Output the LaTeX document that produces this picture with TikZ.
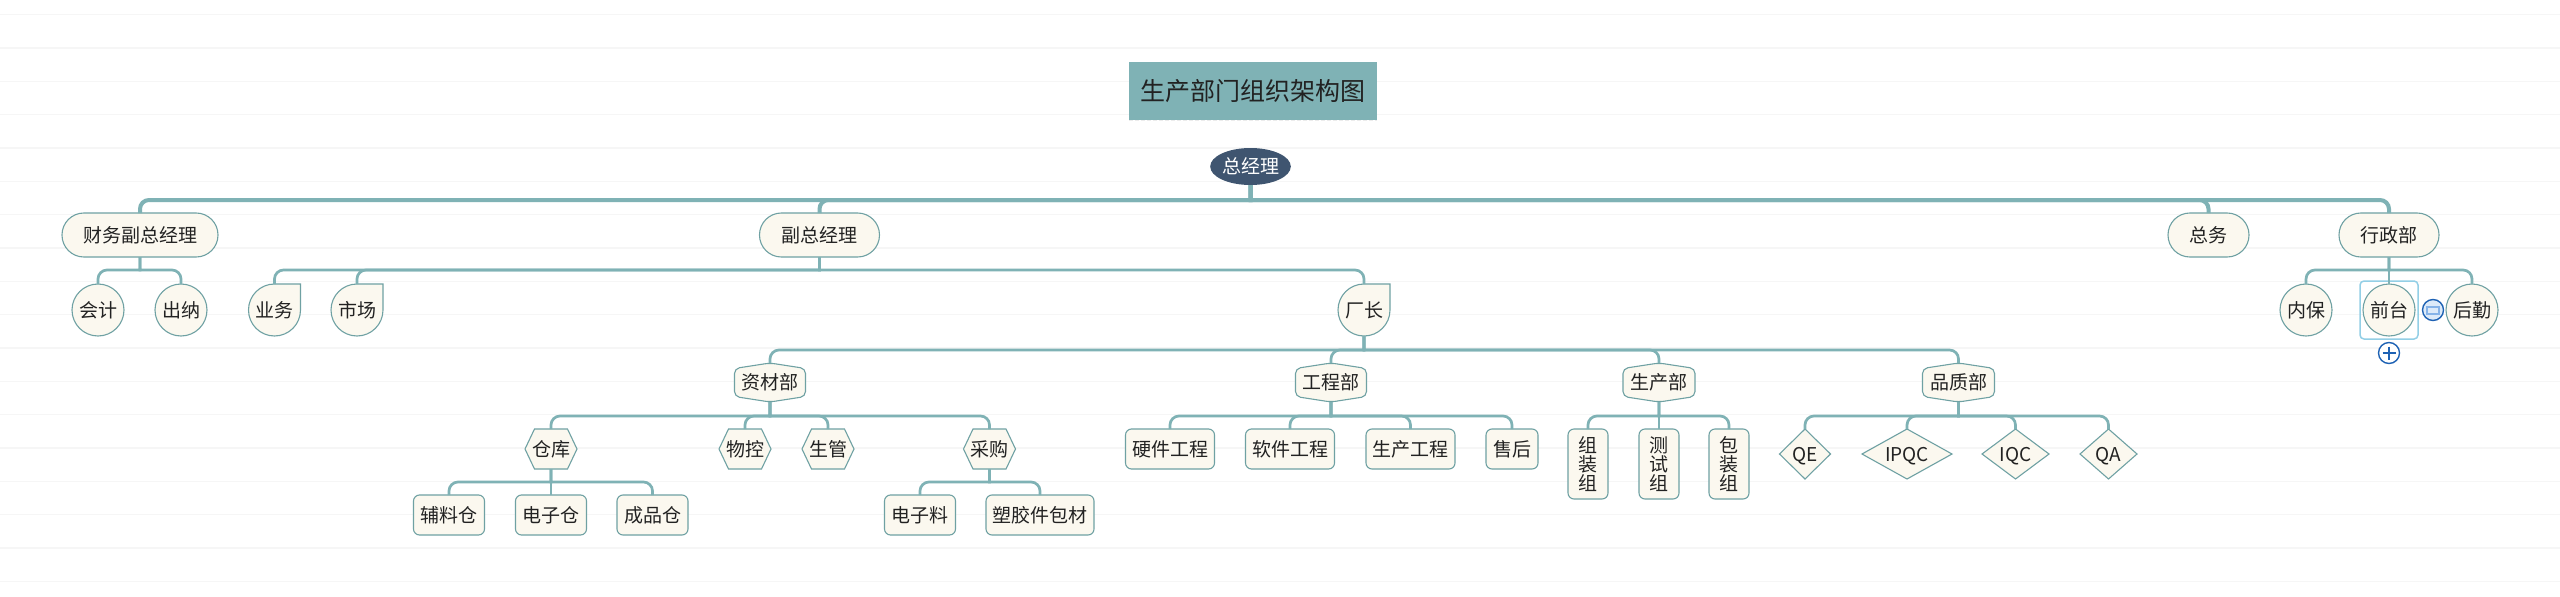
\documentclass[tikz,border=0pt]{standalone}
\usepackage{fontspec}
\setmainfont{Noto Sans CJK SC}
\usetikzlibrary{shapes.geometric}
\definecolor{teal1}{HTML}{7FB2B5}
\definecolor{edge1}{HTML}{6FA1A3}
\definecolor{cream}{HTML}{FBF8EF}
\definecolor{navy1}{HTML}{3F5570}
\definecolor{ink}{HTML}{222222}
\definecolor{rule1}{HTML}{F6F6F6}
\definecolor{sel1}{HTML}{93CFE6}
\definecolor{blue1}{HTML}{1E62B4}
\definecolor{blue2}{HTML}{DCEAF9}
\definecolor{blue3}{HTML}{86B3E8}
\tikzset{
  every node/.style={inner sep=0pt, outer sep=0pt, text=ink, font=\fontsize{19}{19}\selectfont, text height=16.6pt, text depth=2.4pt},
  box/.style={draw=edge1, line width=1.1pt, fill=cream},
  capsule/.style={box, rectangle, rounded corners=21.9pt, minimum width=#1, minimum height=44pt},
  ball/.style={box, circle, minimum size=52pt},
  dropball/.style={circle, fill=cream, minimum size=52pt},
  tile/.style={box, rectangle, rounded corners=6pt, minimum width=#1, minimum height=40pt},
  tall/.style={box, rectangle, rounded corners=6pt, minimum width=40pt, minimum height=70pt, align=center, text height=, text depth=},
  gem/.style 2 args={box, diamond, minimum width=#1, minimum height=50pt, aspect=#2},
  busa/.style={draw=teal1, line width=4pt},
  busb/.style={draw=teal1, line width=2.7pt},
}
% teardrop outline round a dropball node
\def\dropline#1{
  \fill[cream] (#1.north) -| (#1.east) arc[start angle=0, end angle=90, radius=26pt];
  \draw[edge1, line width=1.1pt] (#1.north) -| (#1.east) arc[start angle=0, end angle=-270, radius=26pt];
}
% name, x, half width, text: hexagon with its points up and down
\def\hexup#1#2#3#4{
  \filldraw[box, rounded corners=5pt] (#2,363) -- (#2+#3,368.5) -- (#2+#3,396.5) -- (#2,402) -- (#2-#3,396.5) -- (#2-#3,368.5) -- cycle;
  \node[minimum width=2*#3, minimum height=39pt] (#1) at (#2,382.5) {#4};
}
% name, x, text: hexagon with its points left and right
\def\hexside#1#2#3{
  \filldraw[box] (#2-26,449) -- (#2-16.5,429) -- (#2+16.5,429) -- (#2+26,449) -- (#2+16.5,469) -- (#2-16.5,469) -- cycle;
  \node[minimum width=52pt, minimum height=40pt] (#1) at (#2,449) {#3};
}
% parent stem, bus level, then the children
\def\drops#1#2#3#4{
  \foreach \kid in {#4}
    \draw[#3] (#1.south) -- (#1.south |- #2) [rounded corners=9pt] -- (\kid.north |- #2) -- (\kid.north);
}

\begin{document}
\begin{tikzpicture}[x=1pt, y=-1pt]
\useasboundingbox (0,0) rectangle (2560,597);
\fill[white] (0,0) rectangle (2560,597);
\foreach \row in {0,...,17}
  \draw[rule1, line width=1.5pt] (0,14.7+33.33*\row) -- (2560,14.7+33.33*\row);

\coordinate (bus1) at (0,200);
\coordinate (bus2) at (0,270);
\coordinate (bus3) at (0,350);
\coordinate (bus4) at (0,416);
\coordinate (bus5) at (0,482);

\node[fill=teal1, minimum width=248pt, minimum height=58pt, font=\fontsize{25}{26}\selectfont, text=ink, text height=21.8pt, text depth=3.2pt] (title) at (1253,91) {生产部门组织架构图};
\draw[white!85!gray, line width=1pt, dash pattern=on 4pt off 2pt] (title.south west) -- (title.south east);

\node[ellipse, fill=navy1, minimum width=77pt, minimum height=37pt, text=white] (zjl) at (1250.5,166.5) {总经理};

\node[capsule=156pt] (cw) at (140,235) {财务副总经理};
\node[capsule=120pt] (fzjl) at (819.5,235) {副总经理};
\node[capsule=81pt] (zw) at (2208.5,235) {总务};
\node[capsule=100pt] (xzb) at (2389,235) {行政部};

\node[ball] (kj) at (98,310) {会计};
\node[ball] (cn) at (181,310) {出纳};
\node[dropball] (yw) at (274.5,310) {业务};
\node[dropball] (sc) at (357,310) {市场};
\node[dropball] (cz) at (1364,310) {厂长};
\dropline{yw}
\dropline{sc}
\dropline{cz}
\node[ball] (nb) at (2306,310) {内保};
\node[draw=sel1, line width=1.5pt, rounded corners=4pt, minimum size=58pt] (sel) at (2389,310) {};
\node[ball] (qt) at (2389,310) {前台};
\node[ball] (hq) at (2472,310) {后勤};

\hexup{zcb}{770}{35.5}{资材部}
\hexup{gcb}{1331}{35.5}{工程部}
\hexup{scb}{1659}{36}{生产部}
\hexup{pzb}{1958.5}{36}{品质部}

\hexside{ck}{551}{仓库}
\hexside{wk}{745}{物控}
\hexside{sg}{828}{生管}
\hexside{cg}{989.5}{采购}

\node[tile=71pt] (fl) at (449,515) {辅料仓};
\node[tile=71pt] (dz) at (551,515) {电子仓};
\node[tile=71pt] (cp) at (652.5,515) {成品仓};
\node[tile=71pt] (dl) at (920,515) {电子料};
\node[tile=108pt] (sj) at (1040,515) {塑胶件包材};

\node[tile=89pt] (yj) at (1170,449) {硬件工程};
\node[tile=89pt] (rj) at (1290,449) {软件工程};
\node[tile=89pt] (sg2) at (1410.5,449) {生产工程};
\node[tile=52pt] (sh) at (1512,449) {售后};

\node[tall] (zz) at (1588,464) {组\\装\\组};
\node[tall] (cs) at (1659,464) {测\\试\\组};
\node[tall] (bz) at (1729,464) {包\\装\\组};

\node[gem={51pt}{1.02}] (qe) at (1805,454) {QE};
\node[gem={90pt}{1.8}] (ipqc) at (1907,454) {IPQC};
\node[gem={67pt}{1.34}] (iqc) at (2015.5,454) {IQC};
\node[gem={57pt}{1.14}] (qa) at (2108.5,454) {QA};

\drops{zjl}{bus1}{busa}{cw,fzjl,zw,xzb}
\drops{cw}{bus2}{busb}{kj,cn}
\drops{fzjl}{bus2}{busb}{yw,sc,cz}
\drops{xzb}{bus2}{busb}{nb,qt,hq}
\drops{cz}{bus3}{busb}{zcb,gcb,scb,pzb}
\drops{zcb}{bus4}{busb}{ck,wk,sg,cg}
\drops{gcb}{bus4}{busb}{yj,rj,sg2,sh}
\drops{scb}{bus4}{busb}{zz,cs,bz}
\drops{pzb}{bus4}{busb}{qe,ipqc,iqc,qa}
\drops{ck}{bus5}{busb}{fl,dz,cp}
\drops{cg}{bus5}{busb}{dl,sj}

\node[draw=blue1, line width=1.4pt, circle, fill=white, minimum size=21pt] (plus) at (2389,353) {};
\draw[blue1, line width=1.4pt, shorten >=4pt, shorten <=4pt] (plus.west) -- (plus.east);
\draw[blue1, line width=1.4pt, shorten >=4pt, shorten <=4pt] (plus.north) -- (plus.south);
\node[draw=blue1, line width=1.4pt, circle, fill=blue2, minimum size=21pt] (fold) at (2433,310) {};
\draw[blue3, line width=1.2pt] (2427,307) rectangle (2439,314);
\end{tikzpicture}
\end{document}
